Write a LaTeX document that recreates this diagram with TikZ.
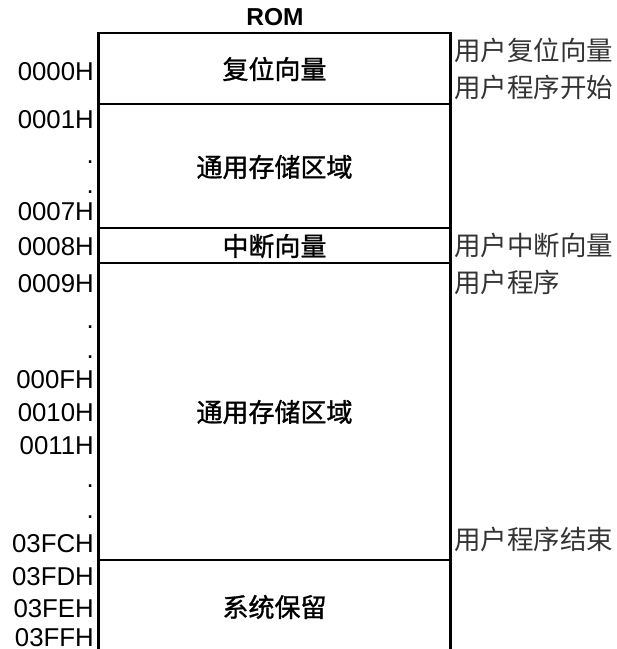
\documentclass[tikz,border=0pt]{standalone}
\usepackage{fontspec}
\setmainfont{Liberation Sans}
\newfontfamily\cjk{Noto Sans CJK SC}
\newfontfamily\cjkheavy{Noto Sans CJK SC}[FakeBold=1.2]
\begin{document}
\begin{tikzpicture}[x=1pt,y=-1pt,
  addr/.style={anchor=base east,inner sep=0pt,font=\fontsize{25.8}{26}\selectfont},
  boxlabel/.style={inner sep=0pt,font=\fontsize{26}{26}\selectfont\cjkheavy},
  note/.style={anchor=west,inner sep=0pt,font=\fontsize{26.5}{27}\selectfont\cjk\color{black!80}},
  memline/.style={line width=2.2pt}]
\useasboundingbox (0,0) rectangle (617,649);
% frame coordinates
\coordinate (tl) at (98.5,33);
\coordinate (tr) at (450.5,33);
\coordinate (bl) at (98.5,650);
\coordinate (br) at (450.5,650);
\coordinate (l1) at (98.5,103.7);  \coordinate (r1) at (450.5,103.7);
\coordinate (l2) at (98.5,228);    \coordinate (r2) at (450.5,228);
\coordinate (l3) at (98.5,263.3);  \coordinate (r3) at (450.5,263.3);
\coordinate (l4) at (98.5,560);    \coordinate (r4) at (450.5,560);
\draw[memline] (bl) -- (tl) -- (tr) -- (br);
\draw[memline] (l1) -- (r1);
\draw[memline] (l2) -- (r2);
\draw[memline] (l3) -- (r3);
\draw[memline] (l4) -- (r4);
% title
\node[inner sep=0pt,font=\fontsize{24.5}{25}\selectfont\bfseries] (rom) at (275,17) {ROM};
% box labels
\node[boxlabel] (b1) at (274.5,69) {复位向量};
\node[boxlabel] (b2) at (274.5,167) {通用存储区域};
\node[boxlabel] (b3) at (274.5,246) {中断向量};
\node[boxlabel] (b4) at (274.5,412) {通用存储区域};
\node[boxlabel] (b5) at (274.5,607) {系统保留};
% addresses
\node[addr] (a1) at (94,80) {0000H};
\node[addr] (a2) at (94,128) {0001H};
\node[addr] (d1) at (94,163) {.};
\node[addr] (d2) at (94,193) {.};
\node[addr] (a3) at (94,220) {0007H};
\node[addr] (a4) at (94,255) {0008H};
\node[addr] (a5) at (94,292) {0009H};
\node[addr] (d3) at (94,328) {.};
\node[addr] (d4) at (94,358) {.};
\node[addr] (a6) at (94,388) {000FH};
\node[addr] (a7) at (94,421) {0010H};
\node[addr] (a8) at (94,454) {0011H};
\node[addr] (d5) at (94,487) {.};
\node[addr] (d6) at (94,518) {.};
\node[addr] (a9) at (94,552) {03FCH};
\node[addr] (a10) at (94,585) {03FDH};
\node[addr] (a11) at (94,617) {03FEH};
\node[addr] (a12) at (94,646) {03FFH};
% notes
\node[note] (n1) at (454,50) {用户复位向量};
\node[note] (n2) at (454,87) {用户程序开始};
\node[note] (n3) at (454,245) {用户中断向量};
\node[note] (n4) at (454,282) {用户程序};
\node[note] (n5) at (454,539) {用户程序结束};
\end{tikzpicture}
\end{document}
